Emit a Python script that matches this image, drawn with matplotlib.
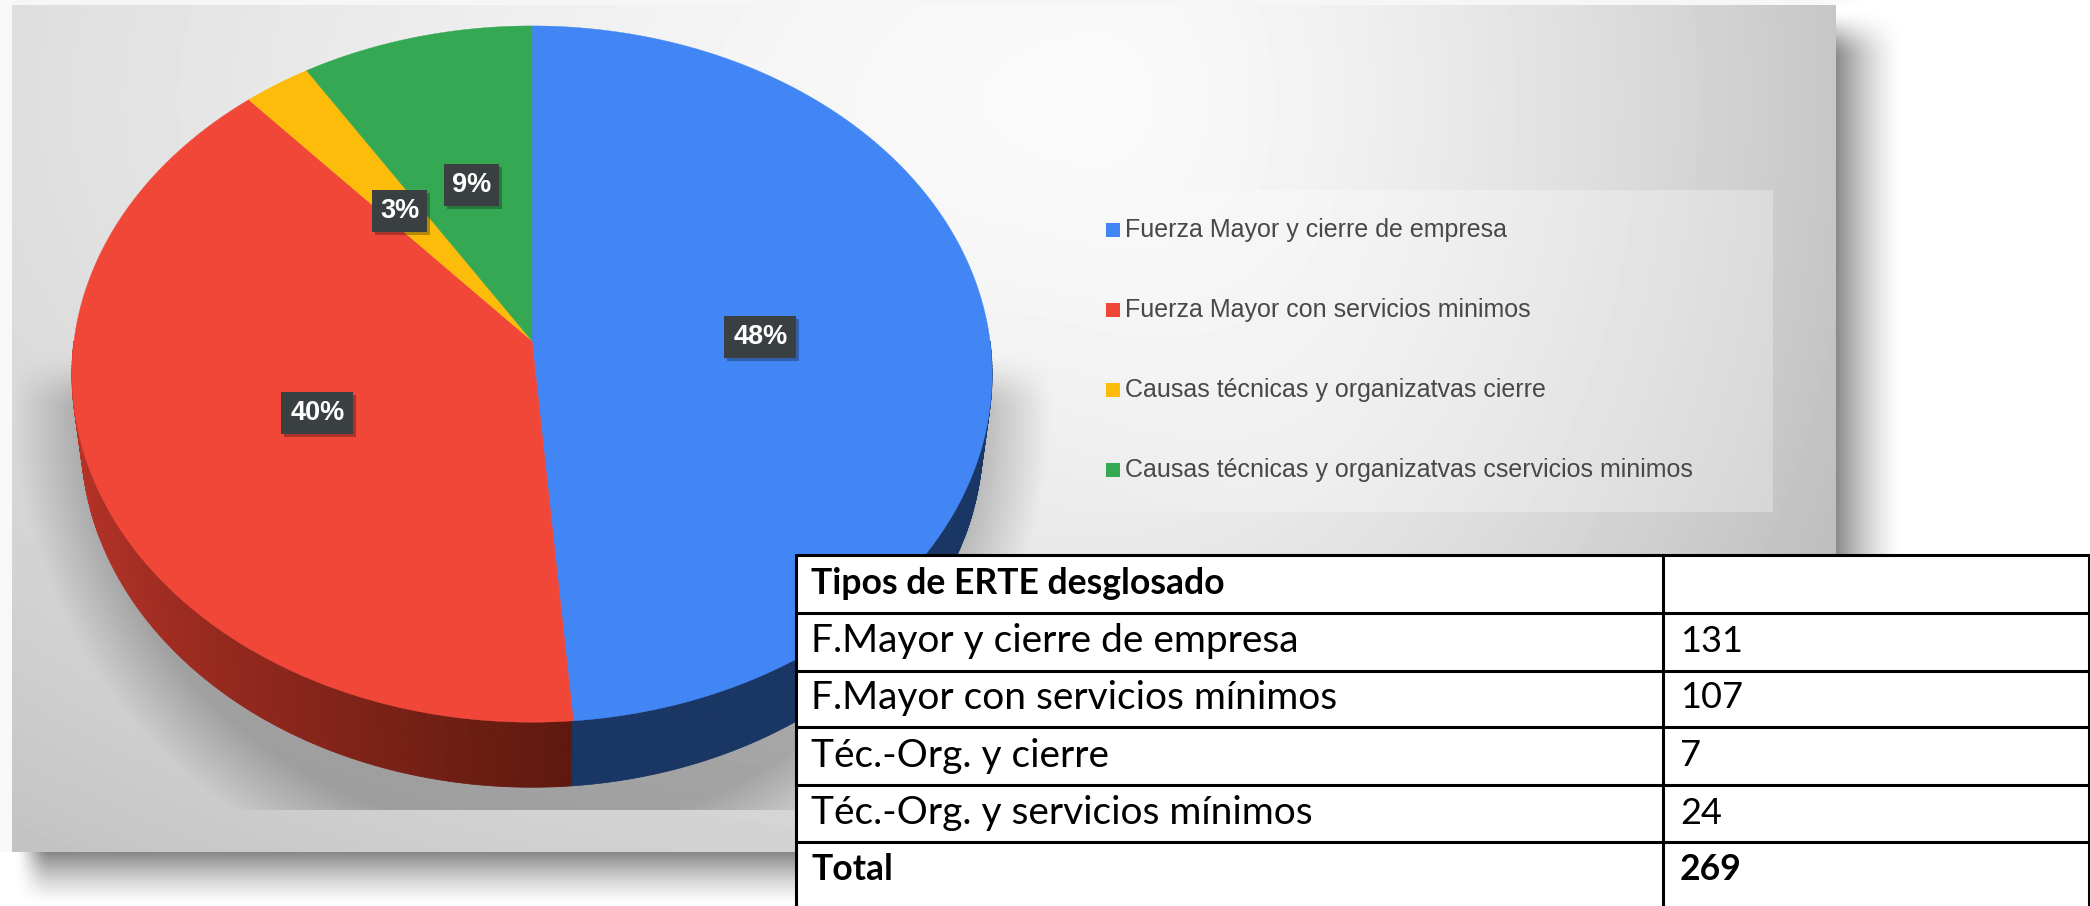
import numpy as np
import matplotlib
matplotlib.use('Agg')
import matplotlib.pyplot as plt
from matplotlib.patches import Rectangle

# Data
table_title = 'Tipos de ERTE desglosado'
table_rows = ['F.Mayor y cierre de empresa', 'F.Mayor con servicios mínimos',
              'Téc.-Org. y cierre', 'Téc.-Org. y servicios mínimos']
counts = [131, 107, 7, 24]
total_label = 'Total'
total_value = 269
pct_labels = ['48%', '40%', '3%', '9%']
legend_labels = ['Fuerza Mayor y cierre de empresa',
                 'Fuerza Mayor con servicios minimos',
                 'Causas técnicas y organizatvas cierre',
                 'Causas técnicas y organizatvas cservicios minimos']
colors = ['#4285f4', '#f14738', '#fcbc09', '#34a853']

W, H = 2090, 906

fig = plt.figure(figsize=(W / 100, H / 100), dpi=100)
ax = fig.add_axes([0, 0, 1, 1])


def smooth(t):
    t = np.clip(t, 0, 1)
    return t * t * (3 - 2 * t)


# Background: slide panel with its drop shadow and the soft pie shadow
xx, yy = np.meshgrid(np.arange(W) + 0.5, np.arange(H) + 0.5)
bg = np.full((H, W), 255.0)
bg = np.where(yy < 5, 255 - 9 * (1 - smooth((xx - 1800) / 80)), bg)
bg[(xx < 12)] = 248

# panel shadow
right = (1 - np.clip((xx - 1836) / 70, 0, 1)) ** 1.6 * smooth((yy - 8) / 50)
bottom = (1 - np.clip((yy - 852) / 54, 0, 1)) ** 1.4 * smooth((xx - 14) / 36)
bg = np.where((xx >= 1836) & (yy >= 5), 255 - 118 * right, bg)
bg = np.where((yy >= 852), 255 - 122 * bottom, bg)

# panel gradient
dx = np.where(xx < 1100, (xx - 1100) / 1600, (xx - 1100) / 720)
dy = (yy - 100) / 900
panel = 250 - 50 * (dx ** 2 + dy ** 2) ** 0.75

# shadow below the pie
e = np.sqrt(((xx - 532) / 495) ** 2 + ((yy - 400) / 480) ** 2)
pie_shadow = np.clip((1.05 - e) / 0.15, 0, 1) * smooth((yy - 350) / 60) * (yy < 810)
panel = panel * (1 - 0.24 * pie_shadow)

# legend backing, only visible towards the darker right side
backing = (xx >= 1010) & (xx < 1773) & (yy >= 190) & (yy < 512)
panel = np.where(backing, panel + (255 - panel) * 0.28 * smooth((xx - 1010) / 350), panel)

inside = (xx >= 12) & (xx < 1836) & (yy >= 5) & (yy < 852)
bg = np.where(inside, panel, bg)
ax.imshow(bg, cmap='gray', vmin=0, vmax=255, extent=(0, W, H, 0),
          interpolation='bilinear', aspect='auto', zorder=0)

# Pie geometry: tilted disc seen in perspective
cx, cy = 532, 341
rx, ry = 458, 345
tilt = 0.095
depth = 65
rim_scale = 0.98


def project(angle_deg, r=1.0):
    # angle clockwise from the top of the disc
    a = np.radians(angle_deg)
    u, v = r * np.sin(a), r * np.cos(a)
    w = 1 + tilt * v
    return cx + rx * u / w, cy - ry * v / w


shares = np.array(counts) / sum(counts) * 360
edges = np.concatenate([[0], np.cumsum(shares)])

# Side wall
red_left = np.array([0xb8, 0x33, 0x28]) / 255
red_right = np.array([0x5e, 0x19, 0x0f]) / 255
steps = np.linspace(90, 270, 361)
for a0, a1 in zip(steps[:-1], steps[1:]):
    x0, y0 = project(a0)
    x1, y1 = project(a1)
    xb0 = cx + (x0 - cx) * rim_scale
    xb1 = cx + (x1 - cx) * rim_scale
    mid = (a0 + a1) / 2
    if mid < edges[1]:
        col = '#1a3665'
    else:
        t = np.clip((x0 - 70) / (project(edges[1])[0] - 70), 0, 1)
        col = tuple(red_left + (red_right - red_left) * t ** 0.8)
    ax.fill([x0, x1, xb1, xb0], [y0, y1, y1 + depth, y0 + depth], color=col,
            linewidth=0.6, zorder=2)

# Top face
for i, col in enumerate(colors):
    angles = np.linspace(edges[i], edges[i + 1], max(int(shares[i]) * 2, 8))
    px, py = project(angles)
    ax.fill(np.r_[cx, px], np.r_[cy, py], color=col, linewidth=0.3, zorder=3)

# Percent labels
for i, lab in enumerate(pct_labels):
    lx, ly = project((edges[i] + edges[i + 1]) / 2, 0.5)
    ly += 3
    bw = 72 if len(lab) == 3 else 55
    bh = 42
    ax.add_patch(Rectangle((lx - bw / 2 + 3, ly - bh / 2 + 3), bw, bh, facecolor='black',
                           alpha=0.28, edgecolor='none', zorder=4))
    ax.add_patch(Rectangle((lx - bw / 2, ly - bh / 2), bw, bh, facecolor='#3a3f42',
                           edgecolor='none', zorder=5))
    ax.text(lx, ly, lab, color='white', fontsize=19.5, fontweight='bold',
            family='Liberation Sans', ha='center', va='center', zorder=6)

# Legend
for i, lab in enumerate(legend_labels):
    ly = 230 + 80 * i
    ax.add_patch(Rectangle((1106, ly - 7), 14, 14, facecolor=colors[i], edgecolor='none', zorder=4))
    ax.text(1125, ly, lab, color='#484848', fontsize=18, family='Liberation Sans',
            ha='left', va='center', zorder=4)

# Table
tx0, tx1, tdiv = 796, W, 1663
line_y = [555, 613, 671, 727, 785, 842]
ax.add_patch(Rectangle((tx0, 555), tx1 - tx0, H - 555, facecolor='white', edgecolor='none', zorder=7))
for y in line_y:
    ax.plot([tx0, tx1], [y, y], color='black', linewidth=2.2, zorder=8, solid_capstyle='butt')
ax.plot([tx0, tx0], [555, H], color='black', linewidth=2.2, zorder=8)
ax.plot([tdiv, tdiv], [555, H], color='black', linewidth=2.2, zorder=8)
ax.plot([W - 1, W - 1], [555, H], color='black', linewidth=2.2, zorder=8)

row_text = [table_title] + table_rows + [total_label]
row_vals = [''] + [str(c) for c in counts] + [str(total_value)]
row_y = [583, 641, 698, 756, 813, 870]
for i, (name, val, y) in enumerate(zip(row_text, row_vals, row_y)):
    bold = i in (0, 5)
    ax.text(811, y, name, fontsize=25.6 if bold else 28, family='Lato',
            fontweight='bold' if bold else 'normal',
            ha='left', va='center', color='black', zorder=9)
    ax.text(1680, y, val, fontsize=25.6 if bold else 26, family='Lato',
            fontweight='bold' if bold else 'normal',
            ha='left', va='center', color='black', zorder=9)

ax.set_xlim(0, W)
ax.set_ylim(H, 0)
ax.axis('off')

plt.savefig('out.png', dpi=100)
